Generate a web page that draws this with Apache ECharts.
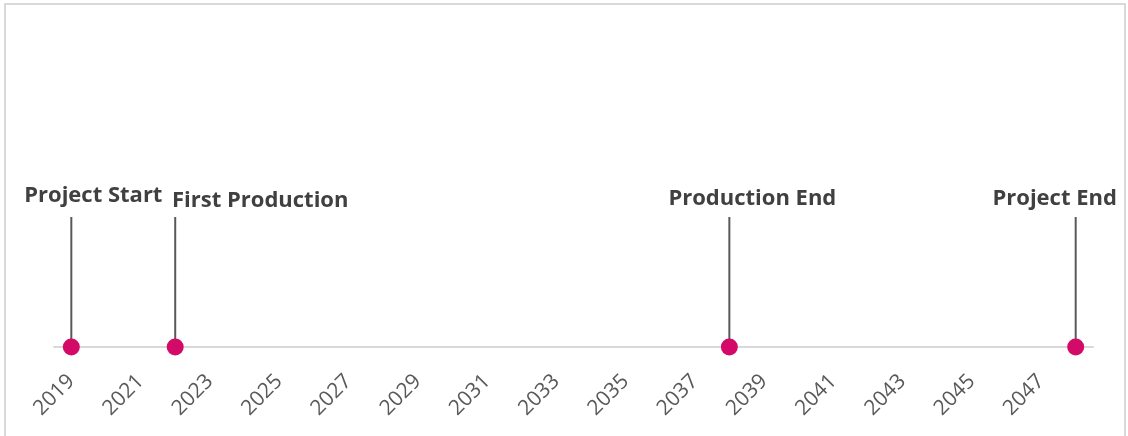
<!DOCTYPE html>
<html>
<head>
<meta charset="utf-8">
<script src="https://cdn.jsdelivr.net/npm/echarts@6/dist/echarts.min.js"></script>
<style>
html,body{margin:0;padding:0;background:#fff;}
#chart{width:1128px;height:436px;}
</style>
</head>
<body>
<div id="chart"></div>
<script>
// Data
const years = [];
for (let y = 2019; y <= 2048; y++) years.push(String(y));
const milestoneNames = ['Project Start', 'First Production', 'Production End', 'Project End'];
const milestoneYears = ['2019', '2022', '2038', '2048'];
const milestoneHeights = [1, 1, 1, 1];

// Layout of labels (not data)
const labelLayout = [
  { align: 'center', offset: [22, 0] },
  { align: 'center', offset: [85, 5] },
  { align: 'center', offset: [23, 3] },
  { align: 'center', offset: [-21, 3] }
];

const chart = echarts.init(document.getElementById('chart'));
const FONT = '"Open Sans", "Noto Sans", sans-serif';

chart.setOption({
  animation: false,
  graphic: [{
    type: 'rect',
    shape: { x: 5, y: 4, width: 1120, height: 450 },
    style: { fill: 'none', stroke: '#d9d9d9', lineWidth: 2 },
    silent: true
  }],
  grid: { left: 54, right: 35, top: 87, bottom: 89, containLabel: false },
  xAxis: {
    type: 'category',
    data: years,
    boundaryGap: true,
    axisLine: { show: true, lineStyle: { color: '#d9d9d9', width: 2 } },
    axisTick: { show: false },
    axisLabel: {
      interval: 1,
      rotate: 45,
      margin: 31,
      color: '#595959',
      fontSize: 21,
      fontFamily: FONT
    },
    splitLine: { show: false }
  },
  yAxis: {
    type: 'value',
    min: 0,
    max: 2,
    show: false
  },
  series: [
    {
      type: 'bar',
      barWidth: 2,
      barGap: '-100%',
      itemStyle: { color: '#595959' },
      data: milestoneYears.map((y, i) => ({
        value: [y, milestoneHeights[i]],
        label: {
          show: true,
          position: 'top',
          formatter: milestoneNames[i],
          align: labelLayout[i].align,
          offset: labelLayout[i].offset,
          distance: 10,
          fontSize: 22,
          fontWeight: 'bold',
          color: '#404040',
          fontFamily: FONT
        }
      })),
      z: 2
    },
    {
      type: 'scatter',
      symbol: 'circle',
      symbolSize: 17,
      itemStyle: { color: '#d40a68', opacity: 1 },
      data: milestoneYears.map(y => [y, 0]),
      z: 3
    }
  ]
});
</script>
</body>
</html>
